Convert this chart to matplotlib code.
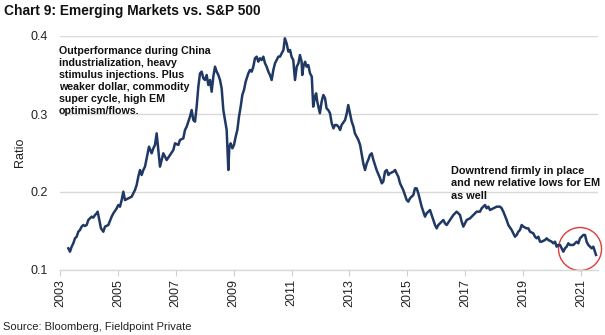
import matplotlib
matplotlib.use("Agg")
import matplotlib.pyplot as plt
from matplotlib.patches import Ellipse

plt.rcParams['font.family'] = ['Liberation Sans', 'DejaVu Sans']

dates = [
    2003.288, 2003.345, 2003.403, 2003.460, 2003.518, 2003.576, 2003.633, 2003.691, 2003.748, 2003.806,
    2003.864, 2003.921, 2003.979, 2004.036, 2004.094, 2004.152, 2004.209, 2004.267, 2004.301, 2004.359,
    2004.416, 2004.497, 2004.555, 2004.670, 2004.785, 2004.843, 2004.958, 2005.015, 2005.073, 2005.131,
    2005.188, 2005.246, 2005.361, 2005.476, 2005.591, 2005.649, 2005.706, 2005.764, 2005.822, 2005.879,
    2005.937, 2006.029, 2006.075, 2006.167, 2006.225, 2006.282, 2006.340, 2006.398, 2006.455, 2006.513,
    2006.570, 2006.686, 2006.801, 2006.916, 2006.974, 2007.089, 2007.146, 2007.261, 2007.319, 2007.377,
    2007.435, 2007.492, 2007.550, 2007.607, 2007.665, 2007.722, 2007.780, 2007.838, 2007.895, 2007.953,
    2008.010, 2008.068, 2008.126, 2008.183, 2008.241, 2008.298, 2008.356, 2008.414, 2008.471, 2008.529,
    2008.586, 2008.644, 2008.701, 2008.759, 2008.817, 2008.851, 2008.897, 2008.955, 2009.012, 2009.070,
    2009.128, 2009.185, 2009.243, 2009.300, 2009.358, 2009.416, 2009.508, 2009.565, 2009.623, 2009.680,
    2009.738, 2009.796, 2009.853, 2009.911, 2009.969, 2010.026, 2010.084, 2010.141, 2010.199, 2010.256,
    2010.314, 2010.372, 2010.429, 2010.487, 2010.544, 2010.600, 2010.660, 2010.720, 2010.770, 2010.830,
    2010.890, 2010.950, 2011.000, 2011.060, 2011.120, 2011.180, 2011.240, 2011.290, 2011.350, 2011.370,
    2011.410, 2011.470, 2011.520, 2011.580, 2011.640, 2011.700, 2011.750, 2011.810, 2011.850, 2011.890,
    2011.980, 2012.040, 2012.100, 2012.160, 2012.210, 2012.270, 2012.330, 2012.390, 2012.450, 2012.500,
    2012.560, 2012.620, 2012.680, 2012.730, 2012.850, 2012.910, 2012.960, 2013.020, 2013.080, 2013.140,
    2013.190, 2013.250, 2013.310, 2013.370, 2013.420, 2013.480, 2013.540, 2013.600, 2013.650, 2013.710,
    2013.770, 2013.830, 2013.940, 2014.060, 2014.120, 2014.170, 2014.230, 2014.290, 2014.350, 2014.400,
    2014.520, 2014.580, 2014.630, 2014.690, 2014.750, 2014.860, 2014.979, 2015.036, 2015.094, 2015.209,
    2015.267, 2015.324, 2015.382, 2015.440, 2015.497, 2015.612, 2015.670, 2015.727, 2015.785, 2015.843,
    2015.900, 2015.958, 2016.015, 2016.073, 2016.131, 2016.188, 2016.246, 2016.303, 2016.361, 2016.476,
    2016.591, 2016.649, 2016.707, 2016.764, 2016.822, 2016.879, 2016.937, 2016.995, 2017.052, 2017.167,
    2017.225, 2017.282, 2017.398, 2017.513, 2017.570, 2017.628, 2017.686, 2017.743, 2017.801, 2017.858,
    2017.974, 2018.089, 2018.204, 2018.262, 2018.319, 2018.434, 2018.492, 2018.607, 2018.665, 2018.722,
    2018.780, 2018.837, 2018.895, 2018.953, 2019.010, 2019.125, 2019.183, 2019.241, 2019.356, 2019.413,
    2019.471, 2019.528, 2019.586, 2019.644, 2019.759, 2019.816, 2019.874, 2019.989, 2020.047, 2020.104,
    2020.162, 2020.219, 2020.277, 2020.335, 2020.392, 2020.450, 2020.507, 2020.565, 2020.623, 2020.738,
    2020.853, 2020.911, 2020.968, 2021.026, 2021.083, 2021.141, 2021.198, 2021.256, 2021.313, 2021.371,
    2021.429, 2021.486, 2021.521]

ratio = [
    0.1278, 0.1235, 0.1299, 0.1342, 0.1406, 0.1427, 0.1491, 0.1513, 0.1556, 0.1577,
    0.1564, 0.1577, 0.1641, 0.1662, 0.1684, 0.1671, 0.1705, 0.1726, 0.1748, 0.1641,
    0.1534, 0.1491, 0.1556, 0.1577, 0.1684, 0.1726, 0.1790, 0.1833, 0.1812, 0.1897,
    0.2004, 0.1897, 0.1919, 0.1940, 0.2026, 0.2090, 0.2197, 0.2282, 0.2218, 0.2282,
    0.2325, 0.2496, 0.2581, 0.2496, 0.2560, 0.2603, 0.2752, 0.2538, 0.2325, 0.2410,
    0.2496, 0.2410, 0.2474, 0.2538, 0.2624, 0.2603, 0.2667, 0.2688, 0.2795, 0.2838,
    0.2902, 0.2966, 0.3051, 0.2923, 0.2902, 0.3094, 0.3350, 0.3521, 0.3543, 0.3457,
    0.3436, 0.3500, 0.3372, 0.3436, 0.3286, 0.3479, 0.3607, 0.3543, 0.3500, 0.3436,
    0.3329, 0.3051, 0.2923, 0.2795, 0.2282, 0.2581, 0.2624, 0.2560, 0.2603, 0.2709,
    0.2795, 0.2966, 0.3094, 0.3244, 0.3308, 0.3415, 0.3521, 0.3564, 0.3543, 0.3607,
    0.3714, 0.3735, 0.3671, 0.3714, 0.3692, 0.3735, 0.3650, 0.3607, 0.3543, 0.3500,
    0.3436, 0.3564, 0.3650, 0.3692, 0.3735, 0.3735, 0.3778, 0.3820, 0.3970, 0.3906,
    0.3800, 0.3820, 0.3735, 0.3692, 0.3436, 0.3607, 0.3650, 0.3756, 0.3670, 0.3500,
    0.3607, 0.3670, 0.3607, 0.3628, 0.3521, 0.3479, 0.3094, 0.3222, 0.3265, 0.3158,
    0.3009, 0.3158, 0.3244, 0.3201, 0.3073, 0.3051, 0.3009, 0.2880, 0.2816, 0.2859,
    0.2859, 0.2838, 0.2795, 0.2859, 0.2923, 0.3009, 0.3115, 0.3009, 0.2902, 0.2838,
    0.2752, 0.2709, 0.2667, 0.2603, 0.2496, 0.2368, 0.2282, 0.2368, 0.2410, 0.2474,
    0.2496, 0.2410, 0.2282, 0.2175, 0.2111, 0.2133, 0.2261, 0.2282, 0.2218, 0.2239,
    0.2261, 0.2282, 0.2239, 0.2197, 0.2111, 0.2026, 0.1898, 0.1876, 0.1919, 0.1962,
    0.2047, 0.2047, 0.1983, 0.1898, 0.1812, 0.1684, 0.1727, 0.1748, 0.1769, 0.1705,
    0.1641, 0.1577, 0.1534, 0.1577, 0.1598, 0.1620, 0.1641, 0.1598, 0.1577, 0.1641,
    0.1705, 0.1727, 0.1748, 0.1727, 0.1705, 0.1620, 0.1556, 0.1598, 0.1641, 0.1662,
    0.1684, 0.1705, 0.1748, 0.1748, 0.1791, 0.1812, 0.1833, 0.1791, 0.1812, 0.1769,
    0.1791, 0.1812, 0.1812, 0.1791, 0.1748, 0.1641, 0.1577, 0.1513, 0.1470, 0.1427,
    0.1449, 0.1491, 0.1513, 0.1577, 0.1556, 0.1534, 0.1534, 0.1491, 0.1470, 0.1427,
    0.1406, 0.1427, 0.1363, 0.1363, 0.1385, 0.1406, 0.1385, 0.1363, 0.1342, 0.1363,
    0.1299, 0.1321, 0.1321, 0.1278, 0.1235, 0.1278, 0.1299, 0.1342, 0.1321, 0.1321,
    0.1363, 0.1342, 0.1406, 0.1427, 0.1449, 0.1449, 0.1363, 0.1321, 0.1299, 0.1278,
    0.1299, 0.1235, 0.1193]

year_ticks = [2003, 2005, 2007, 2009, 2011, 2013, 2015, 2017, 2019, 2021]
y_ticks = [0.1, 0.2, 0.3, 0.4]

title = "Chart 9: Emerging Markets vs. S&P 500"
note1 = ("Outperformance during China\nindustrialization, heavy\nstimulus injections. Plus\n"
         "weaker dollar, commodity\nsuper cycle, high EM\noptimism/flows.")
note2 = "Downtrend firmly in place\nand new relative lows for EM\nas well"
source = "Source: Bloomberg, Fieldpoint Private"

fig = plt.figure(figsize=(6.05, 3.35), dpi=100)
ax = fig.add_axes([60/605, 1-270/335, 538/605, 234/335])

ax.plot(dates, ratio, color='#1f3864', lw=1.8, solid_joinstyle='round')
ax.set_xlim(2003.0, 2003 + 538/28.94)
ax.set_ylim(0.1, 0.4)
ax.set_yticks(y_ticks)
ax.set_yticklabels([f"{v:.1f}" for v in y_ticks])
ax.set_xticks(year_ticks)
ax.set_xticklabels([str(y) for y in year_ticks], rotation=90)
ax.grid(axis='y', color='#d9d9d9', lw=1)
ax.set_axisbelow(True)
for s in ['top', 'right', 'left']:
    ax.spines[s].set_visible(False)
ax.spines['bottom'].set_color('#d9d9d9')
ax.spines['bottom'].set_linewidth(1)
ax.tick_params(axis='y', length=0, pad=8.5, labelsize=9, labelcolor='#222222')
ax.tick_params(axis='x', length=4.3, width=0.8, color='#d0d0d0', pad=2, labelsize=9, labelcolor='#222222')

circ = Ellipse((2020.97, 0.1269), width=43/28.94, height=43/780, fill=False,
               edgecolor='#e03a3a', lw=1.0, clip_on=False)
ax.add_patch(circ)

fig.text(4/605, 1-4/335, title, fontsize=9.9, fontweight='bold', ha='left', va='top', color='#111111')
fig.text(59/605, 1-46/335, note1, fontsize=7.7, fontweight='bold', ha='left', va='top',
         linespacing=1.25, color='#111111')
fig.text(451/605, 1-166/335, note2, fontsize=7.8, fontweight='bold', ha='left', va='top',
         linespacing=1.3, color='#111111')
fig.text(20.5/605, 1-152.5/335, "Ratio", fontsize=9, rotation=90, ha='center', va='center', color='#222222')
fig.text(3/605, 1-327.5/335, source, fontsize=8, ha='left', va='center', color='#222222')

fig.savefig("out.png", dpi=100)
